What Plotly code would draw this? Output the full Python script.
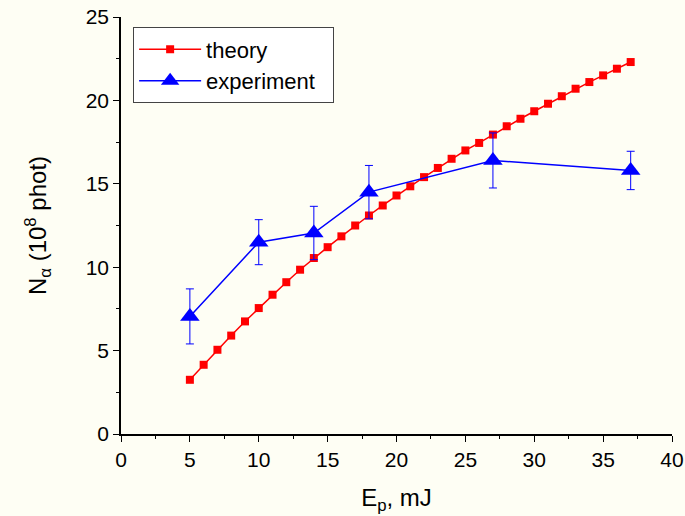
import plotly.graph_objects as go

theory_x = list(range(5, 38))
theory_y = [3.25, 4.15, 5.05, 5.9, 6.75, 7.55, 8.35, 9.1, 9.85, 10.55, 11.2, 11.85,
            12.5, 13.1, 13.7, 14.3, 14.85, 15.4, 15.95, 16.5, 17.0, 17.45, 17.95,
            18.45, 18.9, 19.35, 19.8, 20.25, 20.7, 21.1, 21.5, 21.9, 22.3]

exp_x = [5, 10, 14, 18, 27, 37]
exp_y = [7.05, 11.5, 12.05, 14.5, 16.4, 15.8]
exp_err = [1.65, 1.35, 1.6, 1.6, 1.65, 1.15]

bg = "#FEFEF4"
font = "Liberation Sans, Arial, sans-serif"

fig = go.Figure()
fig.add_trace(go.Scatter(
    x=theory_x, y=theory_y, name="theory", mode="lines+markers",
    line=dict(color="#FF0000", width=1.5),
    marker=dict(symbol="square", size=8, color="#FF0000"),
))
fig.add_trace(go.Scatter(
    x=exp_x, y=exp_y, name="experiment  ", mode="lines+markers",
    line=dict(color="#0000FF", width=1.5),
    marker=dict(symbol="triangle-up", size=17, color="#0000FF"),
    error_y=dict(type="data", array=exp_err, visible=True, color="#0000FF",
                 thickness=1, width=4),
))

axis_common = dict(
    showgrid=False, zeroline=False, showline=True, linecolor="black", linewidth=1.5,
    ticks="outside", ticklen=6, tickwidth=1, tickcolor="black",
    tickfont=dict(family=font, size=21, color="black"),
    mirror=False, automargin=False,
)

fig.update_layout(
    width=685, height=516,
    paper_bgcolor=bg, plot_bgcolor=bg,
    margin=dict(l=121, r=13, t=17, b=82),
    font=dict(family=font, color="black"),
    xaxis=dict(range=[0, 40], dtick=5, **axis_common,
               minor=dict(ticks="outside", ticklen=3, dtick=2.5, tickcolor="black"),
               title=dict(text="E<sub>p</sub>, mJ", font=dict(size=24), standoff=19)),
    yaxis=dict(range=[0, 25], dtick=5, **axis_common,
               minor=dict(ticks="outside", ticklen=3, dtick=2.5, tickcolor="black"),
               title=dict(text="N<sub>α</sub> (10<sup>8</sup> phot)", font=dict(size=24), standoff=32)),
    legend=dict(x=0.022, y=0.975, xanchor="left", yanchor="top",
                bgcolor="white", bordercolor="#444444", borderwidth=1,
                font=dict(family=font, size=22, color="black"),
                itemwidth=62, tracegroupgap=0),
    showlegend=True,
)

fig.write_html("out.html")
